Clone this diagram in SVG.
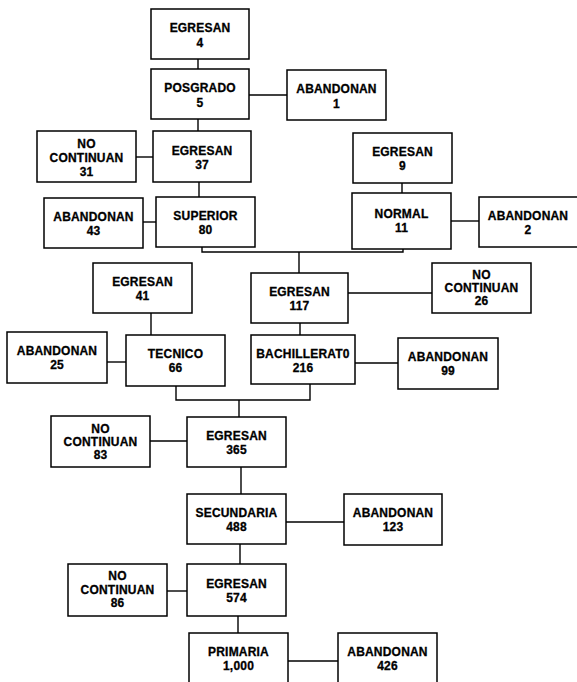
<svg xmlns="http://www.w3.org/2000/svg" width="577" height="682" viewBox="0 0 577 682">
<style>
rect{fill:#fff;stroke:#000;stroke-width:1.5}
text{font-family:"Liberation Sans",Arial,sans-serif;font-weight:bold;font-size:12px;text-anchor:middle;fill:#000;stroke:#000;stroke-width:0.3;letter-spacing:0.2px}
#connectors path{fill:none;stroke:#000;stroke-width:1.4}
</style>
<rect x="0" y="0" width="577" height="682" style="stroke:none"/>
<g id="connectors">
<path d="M198 59V69"/>
<path d="M249 95H287"/>
<path d="M198 119V131"/>
<path d="M136 157H153"/>
<path d="M199 182V197"/>
<path d="M143 222H156"/>
<path d="M402 183V193"/>
<path d="M451 221H479"/>
<path d="M202 247V252H403V249"/>
<path d="M299 252V273"/>
<path d="M348 293H432"/>
<path d="M151 313V335"/>
<path d="M300 323V335"/>
<path d="M107 362H126"/>
<path d="M355 363H398"/>
<path d="M176 386V400H310V384"/>
<path d="M239 400V417"/>
<path d="M150 441H187"/>
<path d="M241 467V494"/>
<path d="M286 522H344"/>
<path d="M240 544V564"/>
<path d="M167 591H187"/>
<path d="M238 616V633"/>
<path d="M288 661H338"/>
</g>
<g id="n1"><rect x="151" y="9" width="98" height="50"/><text x="200" y="32">EGRESAN</text><text x="200" y="47">4</text></g>
<g id="n2"><rect x="151" y="69" width="98" height="50"/><text x="200" y="92">POSGRADO</text><text x="200" y="107">5</text></g>
<g id="n3"><rect x="287" y="70" width="99" height="50"/><text x="336.5" y="93">ABANDONAN</text><text x="336.5" y="108">1</text></g>
<g id="n4"><rect x="37" y="131" width="99" height="51"/><text x="86.5" y="148">NO</text><text x="86.5" y="162">CONTINUAN</text><text x="86.5" y="176">31</text></g>
<g id="n5"><rect x="153" y="131" width="98" height="51"/><text x="202" y="155">EGRESAN</text><text x="202" y="169">37</text></g>
<g id="n6"><rect x="353" y="133" width="99" height="50"/><text x="402.5" y="156">EGRESAN</text><text x="402.5" y="170">9</text></g>
<g id="n7"><rect x="44" y="198" width="99" height="50"/><text x="93.5" y="221">ABANDONAN</text><text x="93.5" y="235">43</text></g>
<g id="n8"><rect x="156" y="197" width="99" height="50"/><text x="205.5" y="220">SUPERIOR</text><text x="205.5" y="234">80</text></g>
<g id="n9"><rect x="352" y="193" width="99" height="56"/><text x="401.5" y="218">NORMAL</text><text x="401.5" y="232">11</text></g>
<g id="n10"><rect x="479" y="197" width="99" height="50"/><text x="528" y="220">ABANDONAN</text><text x="528" y="234">2</text></g>
<g id="n11"><rect x="93" y="263" width="99" height="50"/><text x="142.5" y="286">EGRESAN</text><text x="142.5" y="300">41</text></g>
<g id="n12"><rect x="251" y="273" width="97" height="50"/><text x="299.5" y="296">EGRESAN</text><text x="299.5" y="310">117</text></g>
<g id="n13"><rect x="432" y="263" width="99" height="50"/><text x="481.5" y="279">NO</text><text x="481.5" y="292">CONTINUAN</text><text x="481.5" y="305">26</text></g>
<g id="n14"><rect x="7" y="332" width="100" height="51"/><text x="57" y="355">ABANDONAN</text><text x="57" y="369">25</text></g>
<g id="n15"><rect x="126" y="335" width="99" height="51"/><text x="175.5" y="358">TECNICO</text><text x="175.5" y="372">66</text></g>
<g id="n16"><rect x="251" y="335" width="104" height="49"/><text x="303" y="358">BACHILLERAT0</text><text x="303" y="372">216</text></g>
<g id="n17"><rect x="398" y="338" width="100" height="51"/><text x="448" y="361">ABANDONAN</text><text x="448" y="375">99</text></g>
<g id="n18"><rect x="51" y="416" width="99" height="51"/><text x="100.5" y="433">NO</text><text x="100.5" y="446">CONTINUAN</text><text x="100.5" y="459">83</text></g>
<g id="n19"><rect x="187" y="417" width="99" height="50"/><text x="236.5" y="440">EGRESAN</text><text x="236.5" y="454">365</text></g>
<g id="n20"><rect x="187" y="494" width="99" height="50"/><text x="236.5" y="517">SECUNDARIA</text><text x="236.5" y="531">488</text></g>
<g id="n21"><rect x="344" y="494" width="98" height="51"/><text x="393" y="517">ABANDONAN</text><text x="393" y="531">123</text></g>
<g id="n22"><rect x="68" y="564" width="99" height="52"/><text x="117.5" y="580">NO</text><text x="117.5" y="594">CONTINUAN</text><text x="117.5" y="607">86</text></g>
<g id="n23"><rect x="187" y="564" width="99" height="52"/><text x="236.5" y="588">EGRESAN</text><text x="236.5" y="602">574</text></g>
<g id="n24"><rect x="189" y="633" width="99" height="52"/><text x="238.5" y="656">PRIMARIA</text><text x="238.5" y="670">1,000</text></g>
<g id="n25"><rect x="338" y="633" width="99" height="52"/><text x="387.5" y="656">ABANDONAN</text><text x="387.5" y="670">426</text></g>
</svg>
